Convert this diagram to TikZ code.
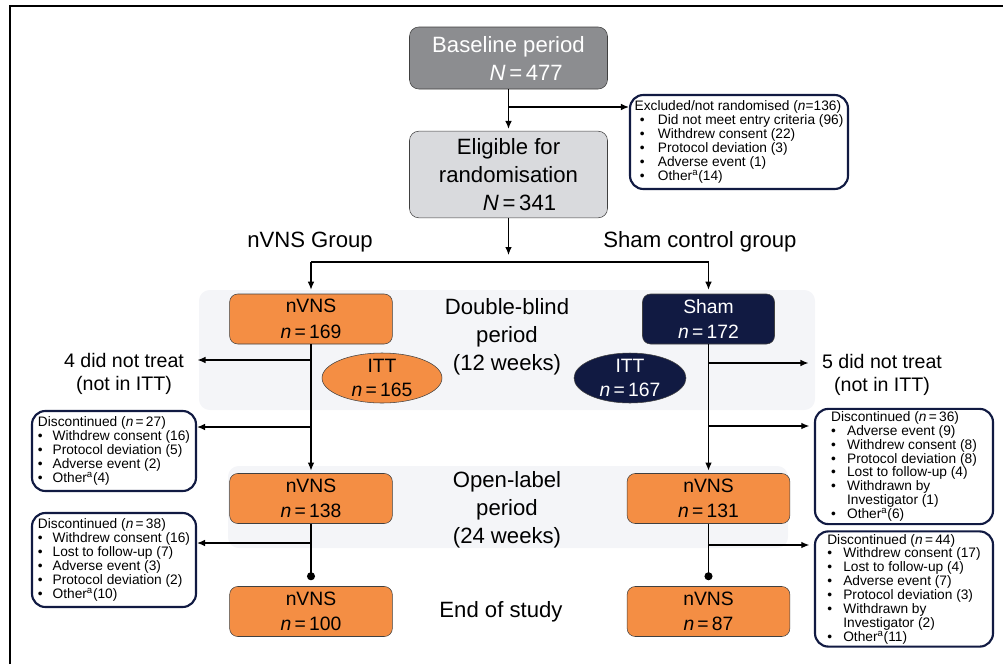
\documentclass[tikz,border=0pt]{standalone}
\usepackage{fontspec}
\setmainfont{Liberation Sans}
\usetikzlibrary{arrows.meta,shapes.geometric}
\definecolor{nvorange}{HTML}{F48E44}
\definecolor{shamnavy}{HTML}{111A42}
\definecolor{basegray}{HTML}{8C8D90}
\definecolor{eliggray}{HTML}{D9DADD}
\definecolor{bandgray}{HTML}{F4F5F8}
\newcommand{\itm}[2][11pt]{\makebox[#1][l]{\textbullet}#2}

\begin{document}
\begin{tikzpicture}[x=0.75pt,y=-0.75pt,
every node/.style={align=center},
big/.style={font=\fontsize{16.6}{21}\selectfont},
topbox/.style={big,draw=black!75,rounded corners=7pt,minimum width=148.5pt},
nvbox/.style={draw=black!75,fill=nvorange,rounded corners=6pt,minimum width=122pt,minimum height=37.5pt,font=\fontsize{14.5}{19}\selectfont},
shbox/.style={nvbox,fill=shamnavy,text=white,minimum width=99pt},
itt/.style={ellipse,draw=black!75,minimum height=37.5pt,inner xsep=0pt,inner ysep=-1pt,font=\fontsize{14.5}{18}\selectfont},
disc/.style={draw=shamnavy,line width=1.6pt,rounded corners=10pt,fill=white,align=left,inner sep=2pt,font=\fontsize{10.3}{10.4}\selectfont},
note/.style={inner xsep=10pt,font=\fontsize{14.7}{17.5}\selectfont},
arr/.style={line width=0.9pt,-{Latex[length=6pt,width=5pt]}},
dotline/.style={line width=0.9pt,-{Circle[length=6pt]},shorten >=4.5pt}]
\useasboundingbox (0,0) rectangle (1003,664);
\draw[line width=2.2pt] (10,664) -- (10,6) -- (1003,6);
\fill[bandgray,rounded corners=8pt] (199,290) rectangle (815,410);
\fill[bandgray,rounded corners=8pt] (228,466) rectangle (788,548);

\node[topbox,fill=basegray,text=white,minimum height=46.5pt] (base) at (508.5,58) {Baseline period\\\hspace*{1.6em}\textit{N}\,=\,477};
\node[topbox,fill=eliggray,minimum height=65pt] (elig) at (508.5,174.5) {Eligible for\\randomisation\\\hspace*{1em}\textit{N}\,=\,341};
\node[disc,minimum width=163.5pt,minimum height=70.5pt] (excl) at (739,142) {Excluded/not randomised (\textit{n}=136)\\
\hspace*{4pt}\itm[13.5pt]{Did not meet entry criteria (96)}\\
\hspace*{4pt}\itm[13.5pt]{Withdrew consent (22)}\\
\hspace*{4pt}\itm[13.5pt]{Protocol deviation (3)}\\
\hspace*{4pt}\itm[13.5pt]{Adverse event (1)}\\
\hspace*{4pt}\itm[13.5pt]{Other\textsuperscript{a}(14)}};

\node[big] (gnv) at (310,242) {nVNS Group};
\node[big] (gsh) at (700,242) {Sham control group};

\node[nvbox] (nv169) at (311,319) {nVNS\\\textit{n}\,=\,169};
\node[shbox] (sham) at (708.5,319) {Sham\\\textit{n}\,=\,172};
\node[itt,fill=nvorange,minimum width=90pt] (ittn) at (382,378) {ITT\\\textit{n}\,=\,165};
\node[itt,fill=shamnavy,text=white,minimum width=84pt] (itts) at (630,378) {ITT\\\textit{n}\,=\,167};
\node[big] (dbl) at (507,337) {Double-blind\\period\\(12 weeks)};
\node[note] (nt4) at (124,374) {4 did not treat\\(not in ITT)};
\node[note] (nt5) at (882,375) {5 did not treat\\(not in ITT)};

\node[disc,minimum width=123pt,minimum height=60pt] (dl1) at (114,451) {Discontinued (\textit{n}\,=\,27)\\
\itm{Withdrew consent (16)}\\
\itm{Protocol deviation (5)}\\
\itm{Adverse event (2)}\\
\itm{Other\textsuperscript{a}(4)}};
\node[disc,minimum width=123pt,minimum height=70.5pt] (dl2) at (114,560) {Discontinued (\textit{n}\,=\,38)\\
\itm{Withdrew consent (16)}\\
\itm{Lost to follow-up (7)}\\
\itm{Adverse event (3)}\\
\itm{Protocol deviation (2)}\\
\itm{Other\textsuperscript{a}(10)}};
\node[disc,minimum width=133.5pt,minimum height=86pt] (dr1) at (904,466.5) {Discontinued (\textit{n}\,=\,36)\\
\itm[12pt]{Adverse event (9)}\\
\itm[12pt]{Withdrew consent (8)}\\
\itm[12pt]{Protocol deviation (8)}\\
\itm[12pt]{Lost to follow-up (4)}\\
\itm[12pt]{Withdrawn by}\\
\hspace*{12pt}Investigator (1)\\
\itm[12pt]{Other\textsuperscript{a}(6)}};
\node[disc,minimum width=133.5pt,minimum height=85.5pt] (dr2) at (904,589) {Discontinued (\textit{n}\,=\,44)\\
\itm[12pt]{Withdrew consent (17)}\\
\itm[12pt]{Lost to follow-up (4)}\\
\itm[12pt]{Adverse event (7)}\\
\itm[12pt]{Protocol deviation (3)}\\
\itm[12pt]{Withdrawn by}\\
\hspace*{12pt}Investigator (2)\\
\itm[12pt]{Other\textsuperscript{a}(11)}};

\node[nvbox] (nv138) at (311,498.5) {nVNS\\\textit{n}\,=\,138};
\node[nvbox] (nv131) at (708.5,498.5) {nVNS\\\textit{n}\,=\,131};
\node[big] (opl) at (507,510) {Open-label\\period\\(24 weeks)};
\node[nvbox] (nv100) at (311,611.5) {nVNS\\\textit{n}\,=\,100};
\node[nvbox] (nv87) at (708.5,611.5) {nVNS\\\textit{n}\,=\,87};
\node[big] (eos) at (501,612) {End of study};

\coordinate (j1) at (508.5,107);
\coordinate (sp) at (508.5,255);
\coordinate (gl) at (311,262);
\coordinate (gr) at (708.5,262);
\coordinate (b4) at (311,360);
\coordinate (bl1) at (311,427);
\coordinate (bl2) at (311,543);
\coordinate (b5) at (708.5,363);
\coordinate (br1) at (708.5,426);
\coordinate (br2) at (708.5,545);

\draw[arr,shorten >=1.5pt] (base) -- (elig);
\draw[arr] (j1) -- (excl.west |- j1);
\draw[arr] (elig) -- (sp);
\draw[line width=2pt] (gl) -- (gr);
\draw[arr,shorten >=3pt] (gl) -- (nv169);
\draw[arr,shorten >=3pt] (gr) -- (sham);

\draw[arr,shorten >=2pt] (nv169) -- (nv138);
\draw[arr,shorten >=2pt] (sham) -- (nv131);
\draw[arr] (b4) -- (nt4.east |- b4);
\draw[arr] (bl1) -- (dl1.east |- bl1);
\draw[arr] (bl2) -- (dl2.east |- bl2);
\draw[arr] (b5) -- (nt5.west |- b5);
\draw[arr,shorten >=3.5pt] (br1) -- (dr1.west |- br1);
\draw[arr,shorten >=3.5pt] (br2) -- (dr2.west |- br2);
\draw[dotline] (nv138) -- (nv100);
\draw[dotline] (nv131) -- (nv87);
\end{tikzpicture}
\end{document}
